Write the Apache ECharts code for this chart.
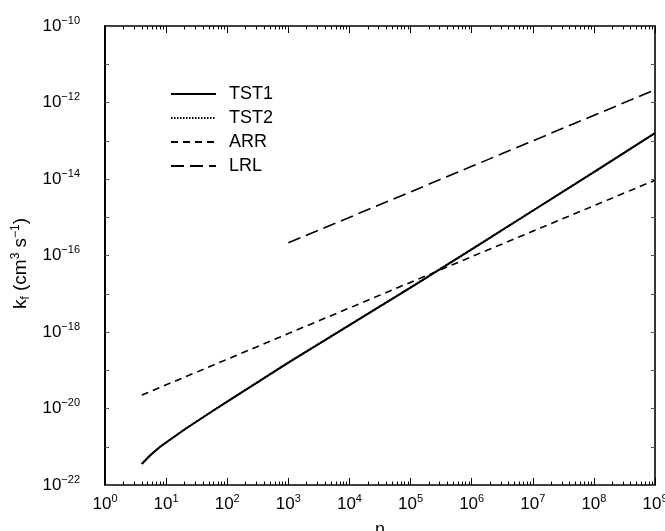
<!DOCTYPE html>
<html>
<head>
<meta charset="utf-8">
<script src="https://cdn.jsdelivr.net/npm/echarts@6/dist/echarts.min.js"></script>
<style>
  html, body { margin: 0; padding: 0; background: #fff; }
  #chart { width: 665px; height: 531px; }
</style>
</head>
<body>
<div id="chart"></div>
<script>
// Rate coefficient k_f (cm^3 s^-1) versus cluster size n
const nTST  = [4, 5, 6, 8, 10, 20, 50, 100, 1e3, 1e4, 1e5, 1e6, 1e7, 1e8, 1e9];
const kTST1 = [3.55e-22, 5.13e-22, 6.76e-22, 1.0e-21, 1.29e-21, 2.82e-21, 7.41e-21, 1.51e-20,
               1.58e-19, 1.51e-18, 1.45e-17, 1.45e-16, 1.48e-15, 1.51e-14, 1.58e-13];
const kTST2 = [3.60e-22, 5.20e-22, 6.84e-22, 1.01e-21, 1.30e-21, 2.84e-21, 7.45e-21, 1.52e-20,
               1.59e-19, 1.52e-18, 1.46e-17, 1.46e-16, 1.49e-15, 1.52e-14, 1.59e-13];
const nARR  = [4, 1e3, 1e6, 1e9];
const kARR  = [2.24e-20, 9.1e-19, 9.3e-17, 9.3e-15];
const nLRL  = [1e3, 1e6, 1e9];
const kLRL  = [2.14e-16, 2.14e-14, 2.14e-12];

const seriesNames = ['TST1', 'TST2', 'ARR', 'LRL'];
const xExponents = [0, 1, 2, 3, 4, 5, 6, 7, 8, 9];
const yExponents = [-22, -20, -18, -16, -14, -12, -10];

const FONT = '"Liberation Sans", Arial, Helvetica, sans-serif';
const MINUS = '\u2212';

// The k axis is laid out in decades (log10 k), so values below 1e-20 keep full precision.
function pairs(xs, ys) { return xs.map((x, i) => [x, Math.log10(ys[i])]); }
function expOf(v) { return Math.round(Math.log10(v)); }
function supLabel(e) { return '{b|10}{s|' + String(e).replace('-', MINUS) + '}'; }

const richTick = {
  b: { fontSize: 17, fontFamily: FONT, color: '#000', lineHeight: 22 },
  s: { fontSize: 11, fontFamily: FONT, color: '#000', verticalAlign: 'top', lineHeight: 12 }
};

const axisLineStyle = { color: '#000', width: 1.6 };
const tickStyle = { color: '#000', width: 1 };

const yAxisBase = {
  type: 'value',
  min: yExponents[0], max: yExponents[yExponents.length - 1], interval: 1,
  splitLine: { show: false }
};
const xAxisBase = {
  type: 'log', logBase: 10,
  min: Math.pow(10, xExponents[0]), max: Math.pow(10, xExponents[xExponents.length - 1]),
  interval: 1, splitLine: { show: false }
};

const chart = echarts.init(document.getElementById('chart'), null, { renderer: 'canvas' });

const lineBase = { type: 'line', symbol: 'none', smooth: false, silent: true };

chart.setOption({
  animation: false,
  backgroundColor: '#fff',
  grid: { left: 105, right: 10, top: 26, bottom: 46, containLabel: false, outerBoundsMode: 'none' },
  legend: {
    orient: 'vertical',
    left: 170,
    top: 85,
    padding: 0,
    itemWidth: 45,
    itemHeight: 14,
    itemGap: 6,
    data: seriesNames,
    itemStyle: { opacity: 0 },
    textStyle: { fontSize: 18, fontFamily: FONT, color: '#000', padding: [0, 0, 0, 8] }
  },
  xAxis: [
    Object.assign({}, xAxisBase, {
      name: 'n', nameLocation: 'middle', nameGap: 36,
      nameTextStyle: { fontSize: 18, fontFamily: FONT, color: '#000' },
      axisLine: { lineStyle: axisLineStyle },
      axisTick: { inside: true, length: 7, lineStyle: tickStyle },
      minorTick: { show: true, splitNumber: 9, length: 3.5, lineStyle: tickStyle },
      axisLabel: {
        margin: 8,
        formatter: v => xExponents.includes(expOf(v)) ? supLabel(expOf(v)) : '',
        rich: richTick
      }
    }),
    Object.assign({}, xAxisBase, {
      position: 'top',
      axisLine: { lineStyle: axisLineStyle },
      axisTick: { inside: true, length: 7, lineStyle: tickStyle },
      minorTick: { show: true, splitNumber: 9, length: 3.5, lineStyle: tickStyle },
      axisLabel: { show: false }
    })
  ],
  yAxis: [
    Object.assign({}, yAxisBase, {
      name: '{b|k}{sb|f}{b| (cm}{s|3}{b| s}{s|' + MINUS + '1}{b|)}',
      nameLocation: 'middle', nameRotate: 90, nameGap: 72,
      nameTextStyle: {
        padding: [0, 16, 0, 0],
        rich: {
          b: { fontSize: 19, fontFamily: FONT, color: '#000', lineHeight: 22 },
          s: { fontSize: 12, fontFamily: FONT, color: '#000', verticalAlign: 'top', lineHeight: 12 },
          sb: { fontSize: 12, fontFamily: FONT, color: '#000', verticalAlign: 'bottom', lineHeight: 12 }
        }
      },
      axisLine: { lineStyle: { color: '#000', width: 2 } },
      axisTick: { inside: true, length: 4, lineStyle: { color: '#555', width: 1 } },
      axisLabel: {
        margin: 25,
        formatter: v => yExponents.includes(v) ? supLabel(v) : '',
        rich: richTick
      }
    }),
    Object.assign({}, yAxisBase, {
      position: 'right',
      axisLine: { lineStyle: axisLineStyle },
      axisTick: { inside: true, length: 4, lineStyle: { color: '#555', width: 1 } },
      axisLabel: { show: false }
    })
  ],
  series: [
    Object.assign({}, lineBase, {
      name: 'TST1', data: pairs(nTST, kTST1), z: 3,
      lineStyle: { color: '#000', width: 2, type: 'solid' },
      itemStyle: { color: '#000' }
    }),
    Object.assign({}, lineBase, {
      name: 'TST2', data: pairs(nTST, kTST2), z: 4,
      lineStyle: { color: '#000', width: 1.8, type: [1.5, 1.5] },
      itemStyle: { color: '#000' }
    }),
    Object.assign({}, lineBase, {
      name: 'ARR', data: pairs(nARR, kARR), z: 2,
      lineStyle: { color: '#000', width: 1.6, type: [7, 5] },
      itemStyle: { color: '#000' }
    }),
    Object.assign({}, lineBase, {
      name: 'LRL', data: pairs(nLRL, kLRL), z: 2,
      lineStyle: { color: '#000', width: 1.6, type: [13, 6] },
      itemStyle: { color: '#000' }
    })
  ]
});
</script>
</body>
</html>
